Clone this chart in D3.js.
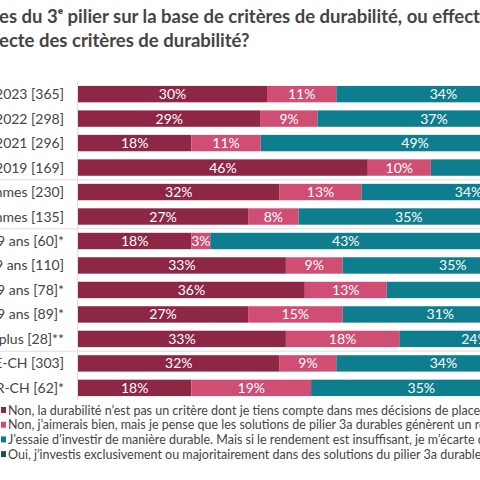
<!DOCTYPE html>
<html><head><meta charset="utf-8">
<script src="https://cdn.jsdelivr.net/npm/d3@7"></script>
<style>body{margin:0;background:#fff}text{font-family:Lato,"Noto Sans",sans-serif}</style>
</head><body><svg id="c" width="480" height="480"></svg>
<script>
const categories=["Total : 2023 [365]","Total : 2022 [298]","Total : 2021 [296]","Total : 2019 [169]","Hommes [230]","Femmes [135]","18-29 ans [60]*","30-39 ans [110]","40-49 ans [78]*","50-59 ans [89]*","60 ans et plus [28]**","DE-CH [303]","FR-CH [62]*"];
const s1=[30,29,18,46,32,27,18,33,36,27,33,32,18];
const s2=[11,9,11,10,13,8,3,9,13,15,18,9,19];
const s3=[34,37,49,34,34,35,43,35,35,31,24,34,35];
const s4=categories.map((d,i)=>100-s1[i]-s2[i]-s3[i]);
const seriesNames=["Non, la durabilité n’est pas un critère dont je tiens compte dans mes décisions de placement.","Non, j’aimerais bien, mais je pense que les solutions de pilier 3a durables génèrent un rendement inférieur.","J’essaie d’investir de manière durable. Mais si le rendement est insuffisant, je m’écarte des principes de durabilité.","Oui, j’investis exclusivement ou majoritairement dans des solutions du pilier 3a durables."];
const colors=["#8e2646","#d04e73","#0e7d8e","#1d4d5b"];
const separatorsAfter=[3,5,10];

const svg=d3.select("#c");
svg.append("text").attr("x",-1).attr("y",23).attr("font-size",18.5).attr("font-weight",700).attr("fill","#444").text("es du 3ᵉ pilier sur la base de critères de durabilité, ou effectuez-vous");
svg.append("text").attr("x",-1).attr("y",47).attr("font-size",18.5).attr("font-weight",700).attr("fill","#444").text("ecte des critères de durabilité?");

const x=d3.scaleLinear().domain([0,100]).range([78,708]);
const y=d3.scaleBand().domain(categories).range([82,400]).paddingInner(0.33).paddingOuter(0.16);
const data=[s1,s2,s3,s4];
const stack=d3.stack().keys([0,1,2,3]).value((i,k)=>data[k][i]);
const layers=stack(d3.range(categories.length));
const g=svg.append("g");
layers.forEach((L,k)=>{
  L.forEach((seg,i)=>{
    const cat=categories[i];
    g.append("rect").attr("x",x(seg[0])).attr("y",y(cat)).attr("width",x(seg[1])-x(seg[0])).attr("height",y.bandwidth()).attr("fill",colors[k]);
    const v=seg[1]-seg[0];
    if(v>=3) g.append("text").attr("x",(x(seg[0])+x(seg[1]))/2).attr("y",y(cat)+y.bandwidth()/2+5).attr("text-anchor","middle").attr("font-size",14).attr("fill","#fff").text(v+"%");
  });
});
const step=y.step();
separatorsAfter.forEach(i=>{
  const yy=y(categories[i])+y.bandwidth()+(step-y.bandwidth())/2;
  svg.append("line").attr("x1",0).attr("x2",480).attr("y1",yy).attr("y2",yy).attr("stroke","#ddd");
});
svg.append("line").attr("x1",77.5).attr("x2",77.5).attr("y1",82).attr("y2",400).attr("stroke","#ddd");
categories.forEach(c=>{
  svg.append("text").attr("x",64).attr("y",y(c)+y.bandwidth()/2+5).attr("text-anchor","end").attr("font-size",14).attr("fill","#444").text(c);
});
seriesNames.forEach((n,k)=>{
  const yy=411+k*14.7;
  svg.append("rect").attr("x",1).attr("y",yy-4).attr("width",5).attr("height",6).attr("fill",colors[k]);
  svg.append("text").attr("x",8).attr("y",yy+3.5).attr("font-size",12.5).attr("fill","#444").text(n);
});
</script></body></html>
